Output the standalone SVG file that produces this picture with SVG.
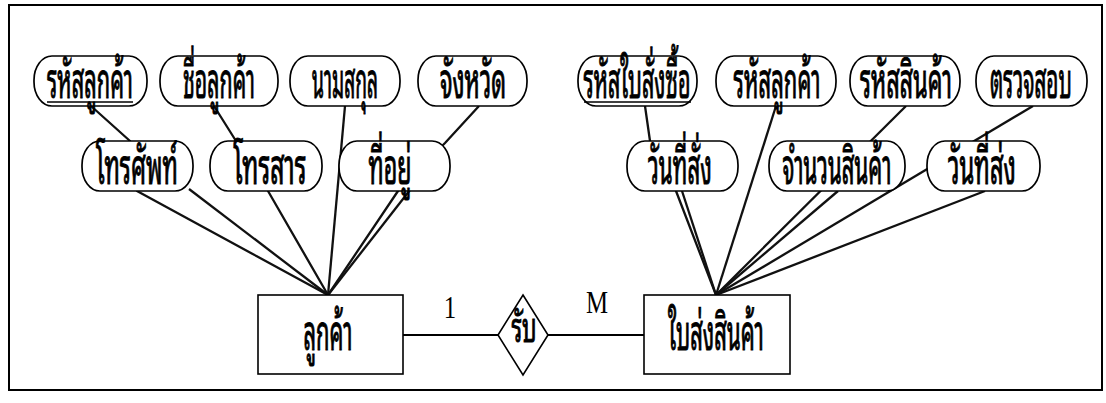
<svg xmlns="http://www.w3.org/2000/svg" width="1106" height="403" viewBox="0 0 1106 403">
<style>
.attr{fill:#fff;stroke:#000;stroke-width:1.7}
.ent{fill:#fff;stroke:#000;stroke-width:1.6}
.t{font-family:"Noto Sans Thai Looped","Noto Serif Thai","Loma","Garuda","Noto Sans Thai","Noto Sans",sans-serif;font-size:49px;font-weight:normal;text-anchor:middle;fill:#000;stroke:#000;stroke-width:1.1}
.c{fill:none;stroke:#111;stroke-width:2.3;stroke-linejoin:round}
.rel{fill:none;stroke:#000;stroke-width:2}
.ul{stroke:#000;stroke-width:1.6}
.num{font-family:"Liberation Serif",serif;font-size:31px;text-anchor:middle;fill:#000}
</style>
<rect x="9" y="5" width="1093" height="385" fill="#fff" stroke="#000" stroke-width="2"/>
<g id="connectors">
<polyline class="c" points="91,106 130,141 137,191 328,295"/>
<line class="c" x1="189" y1="189" x2="328" y2="295"/>
<polyline class="c" points="214,106 236,141 268,191 328,295"/>
<line class="c" x1="345" y1="106" x2="328" y2="295"/>
<polyline class="c" points="479,106 445,143 398,191 328,295"/>
<line class="c" x1="410" y1="190" x2="328" y2="295"/>
<polyline class="c" points="645,106 650,141 676,191 716,295"/>
<line class="c" x1="682" y1="191" x2="716" y2="295"/>
<line class="c" x1="776" y1="106" x2="716" y2="295"/>
<line class="c" x1="906" y1="106" x2="716" y2="295"/>
<line class="c" x1="838" y1="191" x2="716" y2="295"/>
<line class="c" x1="1033" y1="106" x2="716" y2="295"/>
<line class="c" x1="985" y1="191" x2="716" y2="295"/>
<line class="rel" x1="403" y1="335" x2="498" y2="335"/>
<line class="rel" x1="548" y1="335" x2="644" y2="335"/>
<text class="num" transform="translate(450,318) scale(0.8,1)">1</text>
<text class="num" transform="translate(597,313) scale(0.8,1)">M</text>
</g>
<g id="a-rhas-lukkha"><rect class="attr" x="34" y="56" width="113" height="50" rx="18" ry="24"/><text class="t" transform="translate(90,98) scale(0.45,1)" textLength="191" lengthAdjust="spacingAndGlyphs">รหัสลูกค้า</text><line class="ul" x1="47" y1="102" x2="133" y2="102"/></g>
<g id="a-chue-lukkha"><rect class="attr" x="160" y="56" width="118" height="50" rx="18" ry="24"/><text class="t" transform="translate(219,98) scale(0.45,1)" textLength="160" lengthAdjust="spacingAndGlyphs">ชื่อลูกค้า</text></g>
<g id="a-namsakul"><rect class="attr" x="290" y="56" width="110" height="50" rx="18" ry="24"/><text class="t" transform="translate(345,98) scale(0.45,1)" textLength="147" lengthAdjust="spacingAndGlyphs">นามสกุล</text></g>
<g id="a-changwat"><rect class="attr" x="418" y="56" width="109" height="50" rx="18" ry="24"/><text class="t" transform="translate(473,98) scale(0.45,1)" textLength="147" lengthAdjust="spacingAndGlyphs">จังหวัด</text></g>
<g id="a-thorasap"><rect class="attr" x="82" y="141" width="111" height="50" rx="18" ry="24"/><text class="t" transform="translate(137,184) scale(0.45,1)" textLength="182" lengthAdjust="spacingAndGlyphs">โทรศัพท์</text></g>
<g id="a-thorasan"><rect class="attr" x="210" y="141" width="112" height="50" rx="18" ry="24"/><text class="t" transform="translate(270,184) scale(0.45,1)" textLength="162" lengthAdjust="spacingAndGlyphs">โทรสาร</text></g>
<g id="a-thiyu"><rect class="attr" x="339" y="141" width="111" height="50" rx="18" ry="24"/><text class="t" transform="translate(390,184) scale(0.45,1)" textLength="96" lengthAdjust="spacingAndGlyphs">ที่อยู่</text></g>
<g id="a-rhas-baisangsue"><rect class="attr" x="578" y="56" width="119" height="50" rx="18" ry="24"/><text class="t" transform="translate(637,98) scale(0.45,1)" textLength="238" lengthAdjust="spacingAndGlyphs">รหัสใบสั่งซื้อ</text><line class="ul" x1="584" y1="102" x2="691" y2="102"/></g>
<g id="a-rhas-lukkha2"><rect class="attr" x="716" y="56" width="120" height="50" rx="18" ry="24"/><text class="t" transform="translate(777,98) scale(0.45,1)" textLength="193" lengthAdjust="spacingAndGlyphs">รหัสลูกค้า</text></g>
<g id="a-rhas-sinkha"><rect class="attr" x="850" y="56" width="110" height="50" rx="18" ry="24"/><text class="t" transform="translate(906,98) scale(0.45,1)" textLength="204" lengthAdjust="spacingAndGlyphs">รหัสสินค้า</text></g>
<g id="a-truatsop"><rect class="attr" x="976" y="56" width="111" height="50" rx="18" ry="24"/><text class="t" transform="translate(1031,98) scale(0.45,1)" textLength="182" lengthAdjust="spacingAndGlyphs">ตรวจสอบ</text></g>
<g id="a-wanthisang"><rect class="attr" x="627" y="141" width="111" height="50" rx="18" ry="24"/><text class="t" transform="translate(680,184) scale(0.45,1)" textLength="142" lengthAdjust="spacingAndGlyphs">วันที่สั่ง</text></g>
<g id="a-chamnuan"><rect class="attr" x="769" y="141" width="136" height="50" rx="18" ry="24"/><text class="t" transform="translate(837,184) scale(0.45,1)" textLength="242" lengthAdjust="spacingAndGlyphs">จำนวนสินค้า</text></g>
<g id="a-wanthisong"><rect class="attr" x="927" y="141" width="113" height="50" rx="18" ry="24"/><text class="t" transform="translate(982,184) scale(0.45,1)" textLength="151" lengthAdjust="spacingAndGlyphs">วันที่ส่ง</text></g>
<g id="e-lukkha"><rect class="ent" x="258" y="295" width="145" height="79"/><text class="t" transform="translate(328,350) scale(0.45,1)" textLength="109" lengthAdjust="spacingAndGlyphs">ลูกค้า</text></g>
<g id="e-baisongsinkha"><rect class="ent" x="644" y="295" width="146" height="79"/><text class="t" transform="translate(716,350) scale(0.45,1)" textLength="213" lengthAdjust="spacingAndGlyphs">ใบส่งสินค้า</text></g>
<g id="r-rap"><polygon class="ent" points="523,295 548,335 523,375 498,335"/><text class="t" transform="translate(524,342) scale(0.45,1)" textLength="56" lengthAdjust="spacingAndGlyphs" style="font-size:40px">รับ</text></g>
</svg>
